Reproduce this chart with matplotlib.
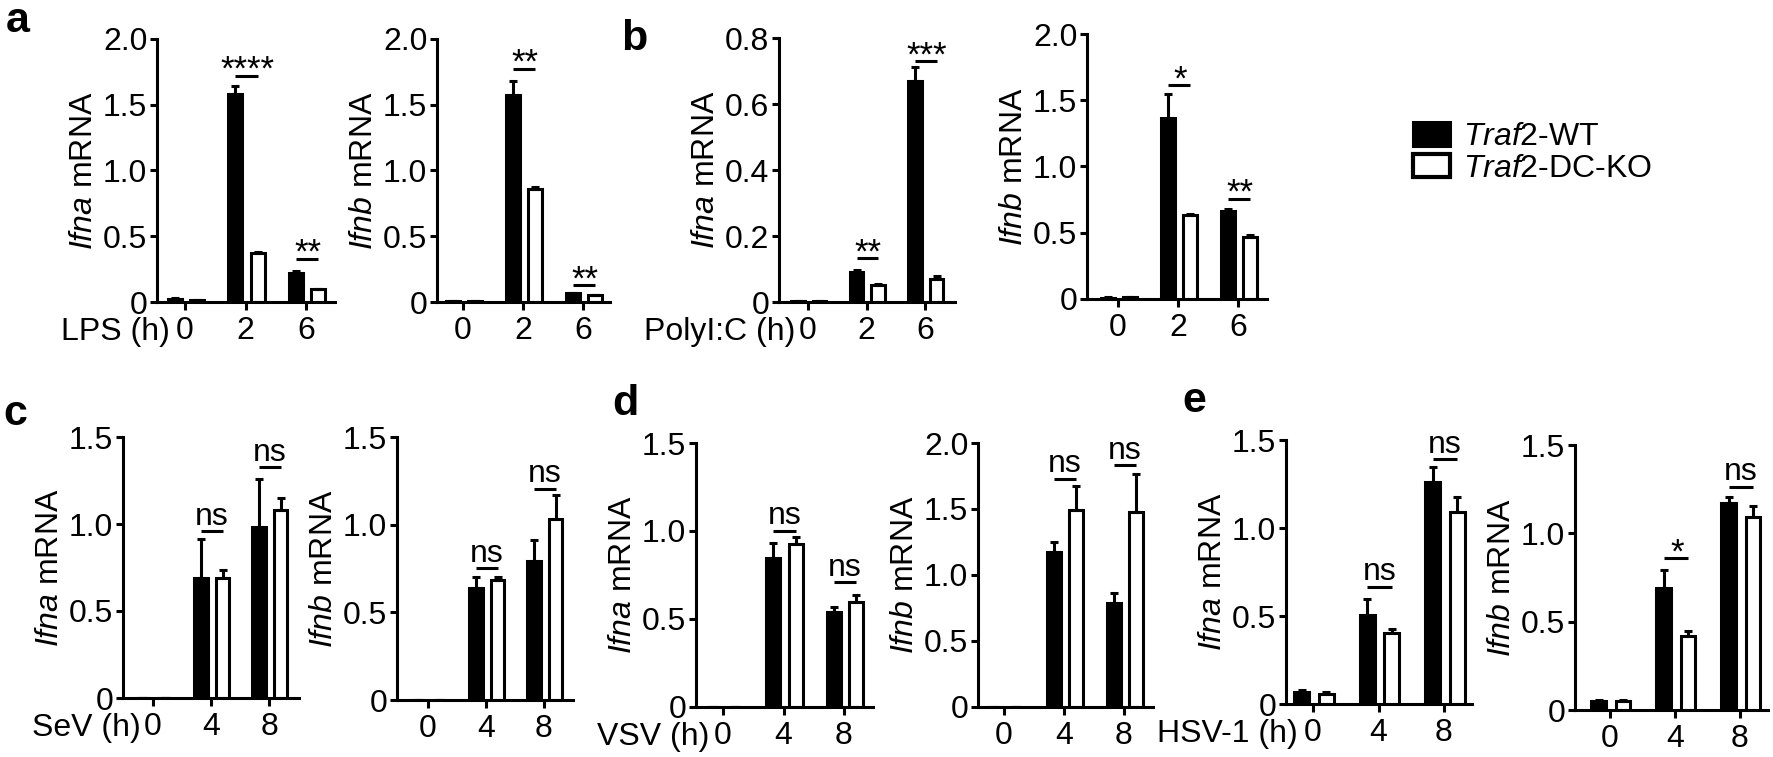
import numpy as np
import matplotlib
matplotlib.use('Agg')
import matplotlib.pyplot as plt
from matplotlib.patches import Patch

plt.rcParams['font.family'] = ['Liberation Sans', 'DejaVu Sans']
plt.rcParams['mathtext.fontset'] = 'custom'
plt.rcParams['mathtext.rm'] = 'Liberation Sans'
plt.rcParams['mathtext.it'] = 'Liberation Sans:italic'

# 数据
lps_hours = ['0', '2', '6']
virus_hours = ['0', '4', '8']

lps_ifna_wt = [0.025, 1.58, 0.224]
lps_ifna_wt_err = [0.003, 0.06, 0.012]
lps_ifna_ko = [0.012, 0.376, 0.099]
lps_ifna_ko_err = [0.002, 0.008, 0.003]
lps_ifna_sig = [(1, 1.72, '****'), (2, 0.33, '**')]

lps_ifnb_wt = [0.008, 1.577, 0.066]
lps_ifnb_wt_err = [0.002, 0.107, 0.005]
lps_ifnb_ko = [0.006, 0.863, 0.05]
lps_ifnb_ko_err = [0.001, 0.01, 0.004]
lps_ifnb_sig = [(1, 1.775, '**'), (2, 0.127, '**')]

pic_ifna_wt = [0.003, 0.091, 0.671]
pic_ifna_wt_err = [0.0005, 0.007, 0.04]
pic_ifna_ko = [0.003, 0.051, 0.071]
pic_ifna_ko_err = [0.0005, 0.003, 0.009]
pic_ifna_sig = [(1, 0.132, '**'), (2, 0.729, '***')]

pic_ifnb_wt = [0.01, 1.366, 0.667]
pic_ifnb_wt_err = [0.002, 0.184, 0.012]
pic_ifnb_ko = [0.015, 0.631, 0.465]
pic_ifnb_ko_err = [0.002, 0.013, 0.016]
pic_ifnb_sig = [(1, 1.613, '*'), (2, 0.757, '**')]

sev_ifna_wt = [0, 0.692, 0.984]
sev_ifna_wt_err = [0, 0.219, 0.273]
sev_ifna_ko = [0, 0.692, 1.08]
sev_ifna_ko_err = [0, 0.044, 0.067]
sev_ifna_sig = [(1, 0.961, 'ns'), (2, 1.328, 'ns')]

sev_ifnb_wt = [0, 0.638, 0.79]
sev_ifnb_wt_err = [0, 0.066, 0.12]
sev_ifnb_ko = [0, 0.685, 1.034]
sev_ifnb_ko_err = [0, 0.019, 0.137]
sev_ifnb_sig = [(1, 0.752, 'ns'), (2, 1.205, 'ns')]

vsv_ifna_wt = [0, 0.849, 0.541]
vsv_ifna_wt_err = [0, 0.085, 0.029]
vsv_ifna_ko = [0, 0.927, 0.598]
vsv_ifna_ko_err = [0, 0.037, 0.038]
vsv_ifna_sig = [(1, 1.002, 'ns'), (2, 0.708, 'ns')]

vsv_ifnb_wt = [0, 1.171, 0.786]
vsv_ifnb_wt_err = [0, 0.081, 0.08]
vsv_ifnb_ko = [0, 1.491, 1.479]
vsv_ifnb_ko_err = [0, 0.182, 0.289]
vsv_ifnb_sig = [(1, 1.73, 'ns'), (2, 1.831, 'ns')]

hsv_ifna_wt = [0.07, 0.506, 1.263]
hsv_ifna_wt_err = [0.01, 0.091, 0.085]
hsv_ifna_ko = [0.055, 0.402, 1.089]
hsv_ifna_ko_err = [0.011, 0.022, 0.085]
hsv_ifna_sig = [(1, 0.667, 'ns'), (2, 1.392, 'ns')]

hsv_ifnb_wt = [0.053, 0.689, 1.17]
hsv_ifnb_wt_err = [0.004, 0.103, 0.038]
hsv_ifnb_ko = [0.053, 0.419, 1.091]
hsv_ifnb_ko_err = [0.004, 0.028, 0.066]
hsv_ifnb_sig = [(1, 0.858, '*'), (2, 1.264, 'ns')]

W, H = 1773, 757
FS = 23
LW = 2.2

fig = plt.figure(figsize=(W / 100, H / 100), dpi=100)


def draw(rect, ticks, hours, wt, wt_err, ko, ko_err, sig, ytop, ystep, gene,
         xlab=None, xlab_off=-9):
    x0, x1, yt, yb = rect
    t0, t2 = ticks
    ax = fig.add_axes([x0 / W, 1 - yb / H, (x1 - x0) / W, (yb - yt) / H])
    sp = (t2 - t0) / 2
    x = np.arange(len(hours))
    ax.bar(x - 0.17, wt, 0.23, color='black', edgecolor='black', linewidth=LW, zorder=2)
    ax.bar(x + 0.2, ko, 0.23, color='white', edgecolor='black', linewidth=LW, zorder=2)
    ax.errorbar(x - 0.17, wt, yerr=[np.zeros(len(x)), wt_err], fmt='none', ecolor='black',
                elinewidth=LW, capsize=3, capthick=LW, zorder=3)
    ax.errorbar(x + 0.2, ko, yerr=[np.zeros(len(x)), ko_err], fmt='none', ecolor='black',
                elinewidth=LW, capsize=3, capthick=LW, zorder=3)
    for g, y, s in sig:
        ax.plot([g - 0.17, g + 0.2], [y, y], color='black', lw=LW, clip_on=False,
                solid_capstyle='butt')
        if '*' in s:
            ax.annotate(s, xy=(g + 0.03, y), xytext=(0, -3), textcoords='offset points',
                        ha='center', va='baseline', fontsize=FS + 2, annotation_clip=False)
        else:
            ax.annotate(s, xy=(g + 0.015, y), xytext=(0, 4.5), textcoords='offset points',
                        ha='center', va='baseline', fontsize=FS, annotation_clip=False)
    ax.set_xlim((x0 - t0) / sp, (x1 - t0) / sp)
    ax.set_ylim(0, ytop)
    yt_vals = np.arange(0, ytop + 1e-9, ystep)
    ax.set_yticks(yt_vals)
    ax.set_yticklabels(['0' if v == 0 else f'{v:.1f}' for v in yt_vals])
    ax.set_xticks(x)
    ax.set_xticklabels(hours)
    ax.spines[['top', 'right']].set_visible(False)
    ax.spines[['left', 'bottom']].set_linewidth(LW)
    ax.tick_params(axis='x', length=6, width=LW, pad=4, labelsize=FS)
    ax.tick_params(axis='y', length=5, width=LW, pad=2, labelsize=FS)
    ax.set_ylabel(r'$\mathit{%s}$ mRNA' % gene, fontsize=FS, labelpad=3)
    if xlab:
        ax.annotate(xlab, xy=(0, 0), xycoords=('data', 'axes fraction'),
                    xytext=(xlab_off, -11), textcoords='offset points',
                    ha='right', va='top', fontsize=FS, annotation_clip=False)
    return ax


draw((157, 335, 39, 302), (185, 306), lps_hours, lps_ifna_wt, lps_ifna_wt_err,
     lps_ifna_ko, lps_ifna_ko_err, lps_ifna_sig, 2.0, 0.5, 'Ifna', 'LPS (h)', -11)
draw((437, 610, 39, 302), (463, 583), lps_hours, lps_ifnb_wt, lps_ifnb_wt_err,
     lps_ifnb_ko, lps_ifnb_ko_err, lps_ifnb_sig, 2.0, 0.5, 'Ifnb')
draw((779, 955, 38, 302), (808, 925), lps_hours, pic_ifna_wt, pic_ifna_wt_err,
     pic_ifna_ko, pic_ifna_ko_err, pic_ifna_sig, 0.8, 0.2, 'Ifna', 'PolyI:C (h)', -9)
draw((1087, 1267, 34, 299), (1118, 1238), lps_hours, pic_ifnb_wt, pic_ifnb_wt_err,
     pic_ifnb_ko, pic_ifnb_ko_err, pic_ifnb_sig, 2.0, 0.5, 'Ifnb')

draw((123, 299, 437, 698), (153, 269), virus_hours, sev_ifna_wt, sev_ifna_wt_err,
     sev_ifna_ko, sev_ifna_ko_err, sev_ifna_sig, 1.5, 0.5, 'Ifna', 'SeV (h)', -9)
draw((397, 573, 437, 700), (428, 544), virus_hours, sev_ifnb_wt, sev_ifnb_wt_err,
     sev_ifnb_ko, sev_ifnb_ko_err, sev_ifnb_sig, 1.5, 0.5, 'Ifnb')
draw((696, 873, 443, 707), (723, 844), virus_hours, vsv_ifna_wt, vsv_ifna_wt_err,
     vsv_ifna_ko, vsv_ifna_ko_err, vsv_ifna_sig, 1.5, 0.5, 'Ifna', 'VSV (h)', -10)
draw((978, 1153, 443, 707), (1004, 1124), virus_hours, vsv_ifnb_wt, vsv_ifnb_wt_err,
     vsv_ifnb_ko, vsv_ifnb_ko_err, vsv_ifnb_sig, 2.0, 0.5, 'Ifnb')
draw((1286, 1472, 440, 704), (1313, 1444), virus_hours, hsv_ifna_wt, hsv_ifna_wt_err,
     hsv_ifna_ko, hsv_ifna_ko_err, hsv_ifna_sig, 1.5, 0.5, 'Ifna', 'HSV-1 (h)', -11)
draw((1575, 1768, 445, 710), (1610, 1740), virus_hours, hsv_ifnb_wt, hsv_ifnb_wt_err,
     hsv_ifnb_ko, hsv_ifnb_ko_err, hsv_ifnb_sig, 1.5, 0.5, 'Ifnb')

# 面板字母
for letter, px, py in [('a', 6, 32), ('b', 621, 50), ('c', 3, 425), ('d', 612, 415), ('e', 1182, 412)]:
    fig.text(px / W, 1 - py / H, letter, fontsize=31, fontweight='bold', va='baseline')

# 图例
handles = [Patch(facecolor='black', edgecolor='black', linewidth=LW),
           Patch(facecolor='white', edgecolor='black', linewidth=3)]
labels = [r'$\mathit{Traf2}$-WT', r'$\mathit{Traf2}$-DC-KO']
fig.legend(handles, labels, loc='upper left', bbox_to_anchor=(1413 / W, 1 - 122 / H),
           frameon=False, fontsize=FS, handlelength=1.15, handleheight=0.75,
           handletextpad=0.4, labelspacing=0.05, borderpad=0, borderaxespad=0)

fig.savefig('out.png', dpi=100, facecolor='white')
